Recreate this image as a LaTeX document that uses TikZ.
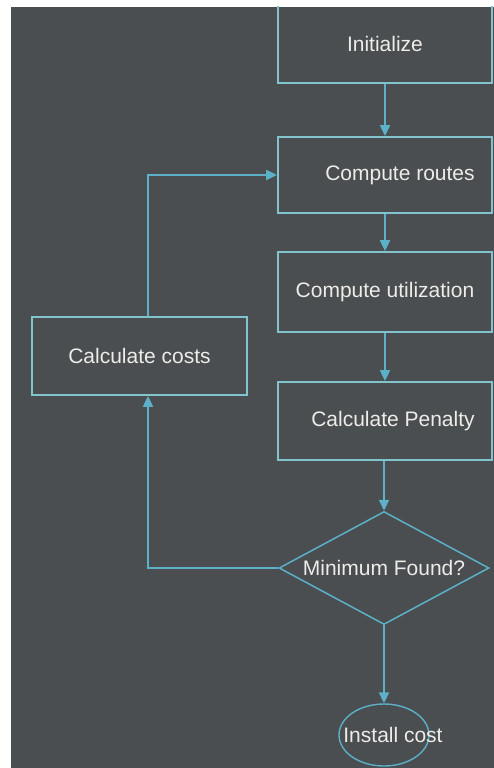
\documentclass[tikz,border=0pt]{standalone}
\usepackage{fontspec}
\setmainfont{Liberation Sans}
\usetikzlibrary{shapes.geometric,arrows.meta}
\definecolor{board}{RGB}{74,78,80}
\definecolor{wire}{RGB}{92,176,200}
\definecolor{rim}{RGB}{130,196,206}
\definecolor{chalk}{RGB}{236,236,232}
\begin{document}
\begin{tikzpicture}[x=1pt,y=-1pt,
  stepbox/.style={draw=rim,line width=1.8pt,minimum width=214pt,inner sep=0pt,text=chalk,font=\fontsize{21}{25}\selectfont},
  decision/.style={diamond,draw=wire,line width=1.5pt,aspect=2,minimum width=210pt,minimum height=113pt,inner sep=0pt,text=chalk,font=\fontsize{21}{25}\selectfont},
  endpoint/.style={ellipse,draw=wire,line width=1.4pt,minimum width=90pt,minimum height=62pt,inner sep=0pt,text=chalk,font=\fontsize{21}{25}\selectfont},
  flow/.style={draw=wire,line width=2pt,-{Triangle[length=11pt,width=10pt]}}]
\useasboundingbox (0,0) rectangle (494,768);
\fill[board] (11,7) rectangle (494,768);
\clip (11,7) rectangle (494,768);

\node (init) [stepbox,minimum height=79pt] at (385,43.5) {Initialize};
\node (routes) [stepbox,minimum height=76pt] at (385,175) {\hspace{30pt}Compute routes};
\node (util) [stepbox,minimum height=80pt] at (385,292) {Compute utilization};
\node (penalty) [stepbox,minimum height=78pt] at (385,421) {\hspace{16pt}Calculate Penalty};
\node (found) [decision] at (384,568) {Minimum Found?};
\node (cost) [endpoint] at (384,735) {\makebox[0pt]{\hspace{18pt}Install cost}};
\node (costs) [stepbox,minimum width=215pt,minimum height=78pt] at (139.5,356) {Calculate costs};

\draw[flow] (init) -- (routes);
\draw[flow] (routes) -- (util);
\draw[flow] (util) -- (penalty);
\draw[flow] (penalty.south -| found.north) -- (found.north);
\draw[flow] (found) -- (cost);
\draw[flow] (found.west) -| ([xshift=8.5pt]costs.south);
\draw[flow] ([xshift=8.5pt]costs.north) |- (routes.west);

\end{tikzpicture}
\end{document}
